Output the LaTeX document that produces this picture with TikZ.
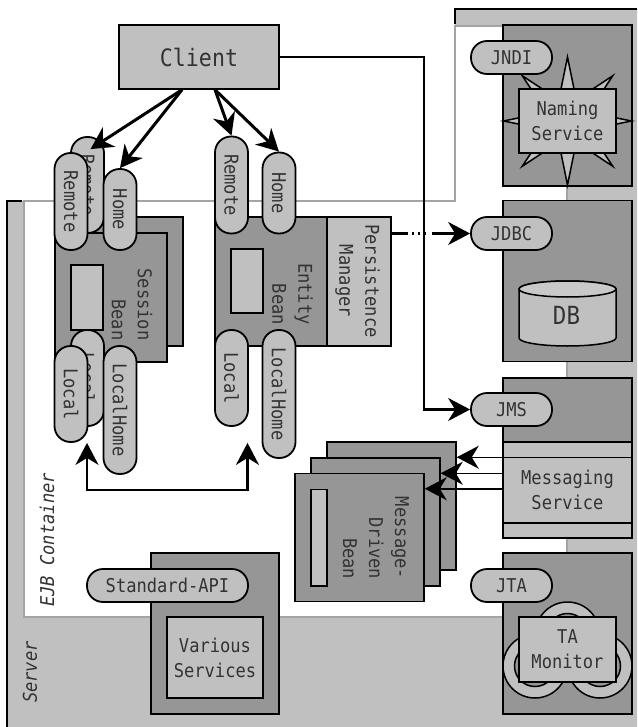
\documentclass[tikz,border=0pt]{standalone}
\usepackage{fontspec}
\usepackage{xcolor}
\usepackage{tikz}
\usetikzlibrary{arrows.meta, shapes.geometric}
\newfontfamily\labelfont[FakeStretch=0.9]{DejaVu Sans Mono}
\definecolor{lightfill}{HTML}{C0C0C0}
\definecolor{darkfill}{HTML}{969696}
\definecolor{edgegray}{HTML}{A4A4A4}
\tikzset{
    boxline/.style={draw=black, line width=1.5pt},
    sized/.style 2 args={minimum width=#1pt, minimum height=#2pt, inner sep=0pt},
    darkbox/.style={boxline, fill=darkfill},
    lightbox/.style={boxline, fill=lightfill, align=center, text=black!80,
        font=\labelfont\fontsize{19}{25}\selectfont},
    pill/.style={lightbox, line width=1.8pt, rounded corners=16pt},
    beantext/.style={rotate=-90, align=right, inner sep=0pt, text=black!80,
        font=\labelfont\fontsize{19}{26}\selectfont},
    sidetext/.style={rotate=90, inner sep=0pt, text=black!80,
        font=\labelfont\itshape\fontsize{19}{25}\selectfont},
    bigtip/.style={-{Stealth[length=22pt, width=23pt, inset=7pt]}},
    bigarrow/.style={line width=3pt, bigtip},
    midarrow/.style={line width=2.2pt, bigtip},
    thinarrow/.style={line width=1.5pt, bigtip}
}
\begin{document}
\begin{tikzpicture}[x=1pt, y=-1pt]
    \useasboundingbox (0,0) rectangle (637,727);

    % server and container areas
    \fill[lightfill] (7,201) -- (455,201) -- (455,9) -- (637,9) -- (637,727) -- (7,727) -- cycle;
    \draw[line width=1.5pt] (7,727) -- (7,201) -- (22,201);
    \draw[line width=1.5pt] (455,24) -- (455,9) -- (637,9);
    \draw[draw=edgegray, line width=1.5pt, fill=white] (24,201) -- (24,617) -- (567,617) -- (567,26) -- (455,26) -- (455,201) -- cycle;
    \node[sidetext] (servername) at (30,672) {Server};
    \node[sidetext] (containername) at (47,540) {EJB Container};

    % services on the right
    \node[darkbox, sized={129}{161}] (jndibox) at (567.5,105.5) {};
    \node[star, star points=8, star point ratio=2.8, minimum size=128pt, inner sep=0pt, boxline, fill=lightfill] (namingstar) at (567.5,121) {};
    \node[lightbox, sized={97}{64}] (naming) at (567.5,121) {Naming\\Service};
    \node[pill, sized={81}{33}] (jndi) at (511.5,57.5) {JNDI};

    \node[darkbox, sized={129}{161}] (jdbcbox) at (567.5,281) {};
    \draw[boxline, fill=lightfill] (519,289) -- (519,338) arc[start angle=180, end angle=360, x radius=48.5pt, y radius=8pt] -- (616,289) arc[start angle=0, end angle=180, x radius=48.5pt, y radius=8pt] -- cycle;
    \draw[boxline, fill=lightfill!85!white] (567.5,289) ellipse[x radius=48.5pt, y radius=8pt];
    \node[inner sep=0pt, text=black!80, font=\labelfont\fontsize{25}{26}\selectfont] (db) at (566.5,315) {DB};
    \node[pill, sized={81}{33}] (jdbc) at (511.5,233.5) {JDBC};

    \node[darkbox, sized={129}{160}] (jmsbox) at (567.5,458) {};
    \node[lightbox, sized={129}{96}] (messaging) at (567.5,490) {Messaging\\Service};
    \draw[boxline] ([yshift=-16pt]messaging.north west) -- ([yshift=-16pt]messaging.north east);
    \draw[boxline] ([yshift=16pt]messaging.south west) -- ([yshift=16pt]messaging.south east);
    \node[pill, sized={81}{33}] (jms) at (511.5,409.5) {JMS};

    \node[darkbox, sized={129}{161}] (jtabox) at (567.5,633.5) {};
    \foreach \ringname/\ringx/\ringy in {ringtop/567.5/634, ringleft/535/666, ringright/600/666} {
        \node[circle, boxline, fill=lightfill, minimum size=64pt, inner sep=0pt] (\ringname) at (\ringx,\ringy) {};
        \node[circle, boxline, fill=darkfill, minimum size=41pt, inner sep=0pt] (\ringname hole) at (\ringx,\ringy) {};
    }
    \node[lightbox, sized={97}{65}] (monitor) at (567.5,649.5) {TA\\Monitor};
    \node[pill, sized={81}{33}] (jta) at (511.5,585.5) {JTA};

    \node[darkbox, sized={128}{161}] (variousbox) at (215,633.5) {};
    \node[lightbox, sized={96}{81}] (various) at (215,657.5) {Various\\Services};
    \node[pill, sized={161}{33}] (standardapi) at (167.5,585.5) {Standard-API};

    % message driven beans
    \node[darkbox, sized={129}{128}] (mdbback) at (391.5,506) {};
    \node[boxline, fill=lightfill, sized={16}{96}] (mdbbackinner) at (351,506) {};
    \node[darkbox, sized={129}{128}] (mdbmid) at (375.5,522) {};
    \node[boxline, fill=lightfill, sized={16}{96}] (mdbmidinner) at (335,522) {};
    \node[darkbox, sized={129}{128}] (mdbfront) at (359.5,537.5) {};
    \node[boxline, fill=lightfill, sized={16}{96.5}] (mdbfrontinner) at (319,537.5) {};
    \node[beantext] (mdbname) at (376,538) {Message-\\Driven\\Bean};

    % session bean
    \node[darkbox, sized={112}{129}] (sessionback) at (127,281.5) {};
    \node[darkbox, sized={112}{129}] (session) at (111,297.5) {};
    \node[boxline, fill=lightfill, sized={32}{65}] (sessioninner) at (87,297.5) {};
    \node[beantext] (sessionname) at (132,304.5) {Session\\Bean};
    \node[pill, rotate=-90, sized={96}{33}] (sessremoteback) at (87.5,185) {Remote};
    \node[pill, rotate=-90, sized={96}{33}] (sesslocalback) at (87.5,378) {Local};
    \node[pill, rotate=-90, sized={97}{33}] (sessremote) at (71,201.5) {Remote};
    \node[pill, rotate=-90, sized={81}{33}] (sesshome) at (120,209.5) {Home};
    \node[pill, rotate=-90, sized={96}{33}] (sesslocal) at (71,394) {Local};
    \node[pill, rotate=-90, sized={128}{33}] (sesslocalhome) at (120,410) {LocalHome};

    % entity bean
    \node[darkbox, sized={112}{129}] (entity) at (271,281.5) {};
    \node[boxline, fill=lightfill, sized={32}{64}] (entityinner) at (247,281) {};
    \node[beantext] (entityname) at (292.5,294) {Entity\\Bean};
    \node[lightbox, sized={64}{129}] (persistence) at (359,281.5) {};
    \node[beantext, align=center] (persistencename) at (357.5,281) {Persistence\\Manager};
    \node[pill, rotate=-90, sized={97}{33}] (entremote) at (231.5,185) {Remote};
    \node[pill, rotate=-90, sized={81}{33}] (enthome) at (279,193) {Home};
    \node[pill, rotate=-90, sized={96}{33}] (entlocal) at (231.5,378) {Local};
    \node[pill, rotate=-90, sized={128}{33}] (entlocalhome) at (279,394) {LocalHome};

    % client and connectors
    \node[lightbox, sized={160}{64}, font=\labelfont\fontsize{24}{26}\selectfont] (client) at (199,57) {Client};
    \coordinate (clientleft) at ([xshift=-17pt]client.south);
    \coordinate (clientright) at ([xshift=16pt]client.south);

    \draw[bigarrow] (clientleft) -- ([xshift=3pt,yshift=-13pt]sessremoteback.west);
    \draw[bigarrow] (clientleft) -- (sesshome.west);
    \draw[bigarrow] (clientright) -- (entremote.west);
    \draw[bigarrow] (clientright) -- (enthome.west);
    \draw[midarrow] (client.east) -- ++(144,0) |- (jms.west);
    \draw[midarrow, dash pattern=on 16pt off 4pt on 2pt off 4pt on 2pt off 4pt on 2pt off 6pt on 60pt] ([yshift=48pt]persistence.east) -- (jdbc.west);
    \draw[midarrow, {Stealth[length=22pt, width=23pt, inset=7pt]}-{Stealth[length=22pt, width=23pt, inset=7pt]}] ([xshift=16pt]sesslocal.east) -- ++(0,47) -| ([xshift=16pt,yshift=-16pt]entlocal.east);
    \foreach \beanname in {mdbback, mdbmid, mdbfront} {
        \draw[thinarrow] ([yshift=-16pt]\beanname.north east -| messaging.west) -- ([yshift=-16pt]\beanname.north east);
    }
\end{tikzpicture}
\end{document}
